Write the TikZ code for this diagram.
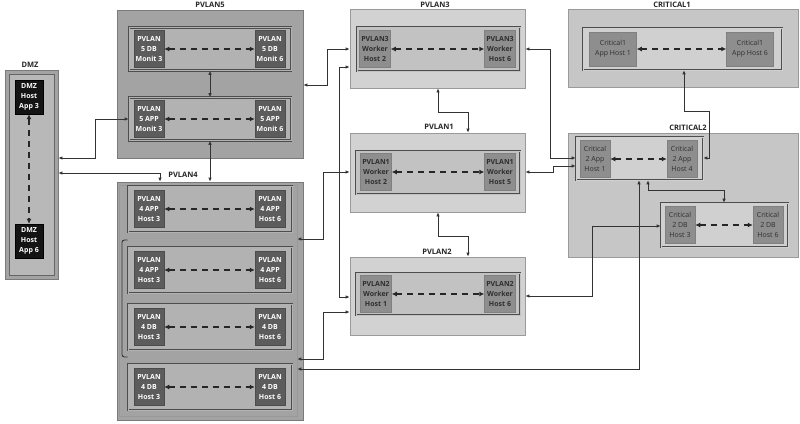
\documentclass[tikz,border=0pt]{standalone}
\usepackage{fontspec}
\setmainfont{Open Sans}
\usetikzlibrary{arrows.meta}
\definecolor{gdark}{HTML}{A3A3A3}
\definecolor{gdarkline}{HTML}{7A7A7A}
\definecolor{rdark}{HTML}{B2B2B2}
\definecolor{glight}{HTML}{D2D2D2}
\definecolor{glightline}{HTML}{9A9A9A}
\definecolor{rlight}{HTML}{C2C2C2}
\definecolor{gcrit}{HTML}{C6C6C6}
\definecolor{rcrit}{HTML}{D0D0D0}
\definecolor{frameline}{HTML}{4D4D4D}
\definecolor{ndark}{HTML}{5C5C5C}
\definecolor{nmid}{HTML}{8E8E8E}
\definecolor{ntext}{HTML}{2E2E2E}
\definecolor{conncol}{HTML}{333333}
\tikzset{
  grpdark/.style={draw=gdarkline, fill=gdark, line width=0.8pt, inner sep=0pt},
  grplight/.style={draw=glightline, fill=glight, line width=0.8pt, inner sep=0pt},
  grpcrit/.style={draw=glightline, fill=gcrit, line width=0.8pt, inner sep=0pt},
  rowframe/.style={draw=frameline, double=#1, double distance=1pt, line width=0.55pt, fill=#1, inner sep=0pt},
  hostdark/.style={draw=black!70, fill=ndark, text=white, line width=0.5pt, inner sep=0pt,
    minimum width=30pt, minimum height=37pt, align=center, font=\fontsize{7}{10}\selectfont\bfseries},
  hostmid/.style={draw=black!50, fill=nmid, text=ntext, line width=0.5pt, inner sep=0pt,
    minimum width=31pt, minimum height=37pt, align=center, font=\fontsize{7}{10}\selectfont\bfseries},
  hostblack/.style={draw=black, fill=black!92, text=white, inner sep=0pt,
    minimum width=28pt, minimum height=34pt, align=center, font=\fontsize{7}{10}\selectfont\bfseries},
  grplabel/.style={font=\fontsize{7.5}{8}\selectfont\bfseries, text=black!85, inner sep=0pt},
  dasharrow/.style={draw=black!85, line width=1.5pt, dash pattern=on 6pt off 5pt,
    {Latex[length=5pt,width=5pt]}-{Latex[length=5pt,width=5pt]}},
  conn/.style={draw=conncol, line width=0.9pt,
    {Latex[length=4pt,width=3.5pt]}-{Latex[length=4pt,width=3.5pt]}},
}
\begin{document}
\begin{tikzpicture}[x=1pt,y=-1pt]
\useasboundingbox (0,0) rectangle (800,423);
\fill[white] (0,0) rectangle (800,423);

% ---------- DMZ ----------
\node[grpdark, minimum width=53pt, minimum height=209pt] (dmz) at (31.5,174.5) {};
\node[draw=black!60, fill=black!28, line width=0.6pt, minimum width=45pt, minimum height=201pt, inner sep=0pt] (dmzi) at (31.5,174.5) {};
\node[grplabel] (dmzl) at (30,65) {DMZ};
\node[hostblack] (d3) at (29,97) {DMZ\\Host\\App 3};
\node[hostblack] (d6) at (29,241) {DMZ\\Host\\App 6};
\draw[dasharrow] (d3.south) -- (d6.north);

% ---------- PVLAN5 ----------
\node[grpdark, minimum width=186pt, minimum height=148pt] (pv5) at (210,84) {};
\node[grplabel] (pv5l) at (210,5) {PVLAN5};
\node[rowframe=rdark, minimum width=162pt, minimum height=43pt] (p5r1) at (210,49) {};
\node[rowframe=rdark, minimum width=162pt, minimum height=43pt] (p5r2) at (210,119) {};
\node[hostdark] (p5a) at (149,49) {PVLAN\\5 DB\\Monit 3};
\node[hostdark] (p5b) at (270,49) {PVLAN\\5 DB\\Monit 6};
\node[hostdark] (p5c) at (149,119) {PVLAN\\5 APP\\Monit 3};
\node[hostdark] (p5d) at (270,119) {PVLAN\\5 APP\\Monit 6};
\draw[dasharrow] (p5a.east) -- (p5b.west);
\draw[dasharrow] (p5c.east) -- (p5d.west);

% ---------- PVLAN4 ----------
\node[grpdark, minimum width=186pt, minimum height=238pt] (pv4) at (210,301) {};
\node[draw=black!40, line width=0.5pt, minimum width=178pt, minimum height=231pt, inner sep=0pt] (pv4i) at (208,301) {};
\node[grplabel] (pv4l) at (183,175) {PVLAN4};
\node[rowframe=rdark, minimum width=164pt, minimum height=46pt] (p4r1) at (210,209) {};
\node[rowframe=rdark, minimum width=164pt, minimum height=46pt] (p4r2) at (210,270) {};
\node[rowframe=rdark, minimum width=164pt, minimum height=46pt] (p4r3) at (210,327) {};
\node[rowframe=rdark, minimum width=164pt, minimum height=46pt] (p4r4) at (210,387) {};
\node[hostdark] (p4a) at (149,209) {PVLAN\\4 APP\\Host 3};
\node[hostdark] (p4b) at (270,209) {PVLAN\\4 APP\\Host 6};
\node[hostdark] (p4c) at (149,270) {PVLAN\\4 APP\\Host 3};
\node[hostdark] (p4d) at (270,270) {PVLAN\\4 APP\\Host 6};
\node[hostdark] (p4e) at (149,327) {PVLAN\\4 DB\\Host 3};
\node[hostdark] (p4f) at (270,327) {PVLAN\\4 DB\\Host 6};
\node[hostdark] (p4g) at (149,387) {PVLAN\\4 DB\\Host 3};
\node[hostdark] (p4h) at (270,387) {PVLAN\\4 DB\\Host 6};
\draw[dasharrow] (p4a.east) -- (p4b.west);
\draw[dasharrow] (p4c.east) -- (p4d.west);
\draw[dasharrow] (p4e.east) -- (p4f.west);
\draw[dasharrow] (p4g.east) -- (p4h.west);
\draw[draw=conncol, line width=0.9pt, rounded corners=2.5pt] (p4r1.south west |- 0,240) -- (122,240) -- (122,357) -- (p4r3.south west |- 0,357);

% ---------- PVLAN3 / PVLAN1 / PVLAN2 ----------
\node[grplight, minimum width=175pt, minimum height=79pt] (pv3) at (437.5,48.5) {};
\node[grplabel] (pv3l) at (435,5) {PVLAN3};
\node[rowframe=rlight, minimum width=163pt, minimum height=44pt] (p3r) at (438.5,49) {};
\node[hostmid] (p3a) at (375,49) {PVLAN3\\Worker\\Host 2};
\node[hostmid] (p3b) at (500,49) {PVLAN3\\Worker\\Host 6};
\draw[dasharrow] (p3a.east) -- (p3b.west);

\node[grplight, minimum width=175pt, minimum height=79pt] (pv1) at (437.5,172.5) {};
\node[grplabel] (pv1l) at (439,127) {PVLAN1};
\node[rowframe=rlight, minimum width=164pt, minimum height=43pt] (p1r) at (438,172.5) {};
\node[hostmid] (p1a) at (376,172) {PVLAN1\\Worker\\Host 2};
\node[hostmid] (p1b) at (500,172) {PVLAN1\\Worker\\Host 5};
\draw[dasharrow] (p1a.east) -- (p1b.west);

\node[grplight, minimum width=175pt, minimum height=78pt] (pv2) at (437.5,296) {};
\node[grplabel] (pv2l) at (437,252) {PVLAN2};
\node[rowframe=rlight, minimum width=164pt, minimum height=42pt] (p2r) at (438,294) {};
\node[hostmid] (p2a) at (376,294) {PVLAN2\\Worker\\Host 1};
\node[hostmid] (p2b) at (500,294) {PVLAN2\\Worker\\Host 6};
\draw[dasharrow] (p2a.east) -- (p2b.west);

% ---------- CRITICAL1 ----------
\node[grpcrit, minimum width=230pt, minimum height=78pt] (cr1) at (683,48) {};
\node[grplabel] (cr1l) at (672,5) {CRITICAL1};
\node[rowframe=rcrit, minimum width=199pt, minimum height=42pt] (c1r) at (682.5,49) {};
\node[hostmid, minimum width=47pt, minimum height=34pt, font=\fontsize{7}{10}\selectfont] (c1a) at (613,49) {Critical1\\App Host 1};
\node[hostmid, minimum width=47pt, minimum height=34pt, font=\fontsize{7}{10}\selectfont] (c1b) at (750,49) {Critical1\\App Host 6};
\draw[dasharrow] (c1a.east) -- (c1b.west);

% ---------- CRITICAL2 ----------
\node[grpcrit, minimum width=230pt, minimum height=124pt] (cr2) at (683,195) {};
\node[grplabel] (cr2l) at (688,128) {CRITICAL2};
\node[rowframe=rcrit, minimum width=127pt, minimum height=43pt] (c2r1) at (639.5,158.5) {};
\node[rowframe=rcrit, minimum width=127pt, minimum height=44pt] (c2r2) at (724.5,225) {};
\node[hostmid, minimum width=30pt, font=\fontsize{7}{10}\selectfont] (c2a) at (595,159) {Critical\\2 App\\Host 1};
\node[hostmid, minimum width=30pt, font=\fontsize{7}{10}\selectfont] (c2b) at (682,159) {Critical\\2 App\\Host 4};
\node[hostmid, minimum width=30pt, font=\fontsize{7}{10}\selectfont] (c2c) at (680,225) {Critical\\2 DB\\Host 3};
\node[hostmid, minimum width=30pt, font=\fontsize{7}{10}\selectfont] (c2d) at (768,225) {Critical\\2 DB\\Host 6};
\draw[dasharrow] (c2a.east) -- (c2b.west);
\draw[dasharrow] (c2c.east) -- (c2d.west);

% ---------- connectors ----------
\draw[conn] (dmz.east |- 0,158) -| (95,119) -- (p5r2.west);
\draw[conn] (dmz.east |- 0,173) -| (pv4.north -| 160,0);
\draw[conn] (p5r1.south) -- (p5r2.north);
\draw[conn] (p5r2.south) -- (pv4.north);
\draw[conn] (pv5.east |- 0,85) -| (327,49) -- (pv3.west |- 0,49);
\draw[conn] (pv3.west |- 0,67) -| (339,297) -- (pv2.west |- 0,297);
\draw[conn] (pv1.west |- 0,172) -| (323,239) -- (pv4i.east |- 0,239);
\draw[conn] (pv2.west |- 0,312) -| (323,359) -- (pv4i.east |- 0,359);
\draw[conn] (pv4i.east |- 0,369) -| (c2r1.south -| 639,0);
\draw[conn] (pv3.east |- 0,49) -| (550,158) -- (c2r1.west |- 0,158);
\draw[conn] (pv1.east |- 0,172) -| (553,166) -- (c2r1.west |- 0,166);
\draw[conn] (c1r.south -| 684,0) |- (709,111) |- (c2r1.east |- 0,158);
\draw[conn] (c2r1.south -| 648,0) |- (724,190) -- (c2r2.north -| 724,0);
\draw[conn] (pv2.east |- 0,296) -| (592,226) -- (c2r2.west |- 0,226);
\draw[conn] (pv3.south -| 438,0) |- (468,112) -- (pv1.north -| 468,0);
\draw[conn] (pv1.south -| 438,0) |- (468,236) -- (pv2.north -| 468,0);
\end{tikzpicture}
\end{document}
